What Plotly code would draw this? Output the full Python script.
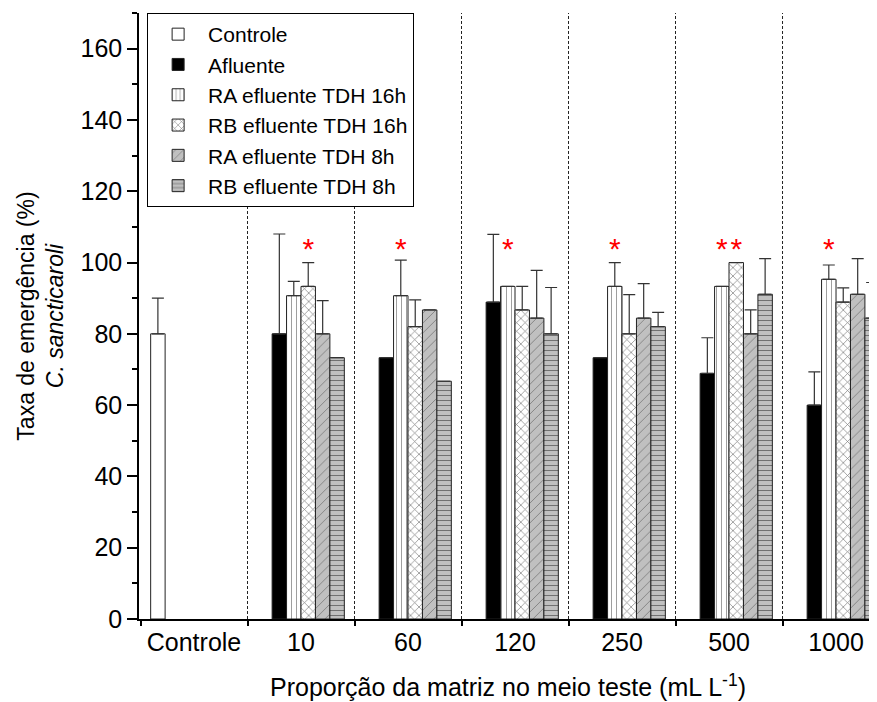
import plotly.graph_objects as go

categories = ["Controle", "10", "60", "120", "250", "500", "1000"]

series_names = ["Controle", "Afluente", "RA efluente TDH 16h", "RB efluente TDH 16h",
                "RA efluente TDH 8h", "RB efluente TDH 8h"]

controle = [80, None, None, None, None, None, None]
afluente = [None, 80, 73.3, 88.9, 73.3, 68.9, 60]
ra16 = [None, 90.7, 90.7, 93.3, 93.3, 93.3, 95.3]
rb16 = [None, 93.3, 82, 86.7, 80, 100, 88.9]
ra8 = [None, 80, 86.7, 84.4, 84.4, 80, 91.1]
rb8 = [None, 73.3, 66.7, 80, 82, 91.1, 84.4]

err_controle = [10, 0, 0, 0, 0, 0, 0]
err_afluente = [0, 28, 0, 19, 0, 10, 9.3]
err_ra16 = [0, 4, 10, 0, 6.7, 0, 4]
err_rb16 = [0, 6.7, 7.5, 6.6, 11, 0, 4]
err_ra8 = [0, 9.3, 0, 13.4, 9.7, 6.7, 10]
err_rb8 = [0, 0, 0, 13, 4, 10, 10]

# significance markers: (category index, series index)
star_cat = [1, 2, 3, 4, 5, 5, 6]
star_series = [3, 2, 2, 2, 2, 3, 2]
star_level = [103, 103, 103, 103, 103, 103, 103]

values = [controle, afluente, ra16, rb16, ra8, rb8]
errors = [err_controle, err_afluente, err_ra16, err_rb16, err_ra8, err_rb8]

styles = [
    dict(color="white", pattern=dict(shape="")),
    dict(color="black", pattern=dict(shape="")),
    dict(color="white", pattern=dict(shape="|", fgcolor="black", bgcolor="white", size=5, solidity=0.15)),
    dict(color="white", pattern=dict(shape="x", fgcolor="black", bgcolor="white", size=6, solidity=0.22)),
    dict(color="#c0c0c0", pattern=dict(shape="/", fgcolor="#333333", bgcolor="#c0c0c0", size=7, solidity=0.12)),
    dict(color="#c0c0c0", pattern=dict(shape="-", fgcolor="#222222", bgcolor="#c0c0c0", size=5, solidity=0.2)),
]

FONT = "Liberation Sans, Arial, sans-serif"
bargap = 0.19
xs = list(range(len(categories)))

fig = go.Figure()
for name, vals, errs, st in zip(series_names, values, errors, styles):
    fig.add_trace(go.Bar(
        x=xs, y=vals, name=name,
        marker=dict(color=st["color"], pattern=st["pattern"],
                    line=dict(color="#222222", width=1)),
        error_y=dict(type="data", symmetric=False, array=errs,
                     arrayminus=[0] * len(errs), color="#333333",
                     thickness=1.2, width=6),
    ))

slot_w = (1 - bargap) / len(series_names)
star_x = [c + (s - (len(series_names) - 1) / 2) * slot_w for c, s in zip(star_cat, star_series)]
fig.add_trace(go.Scatter(
    x=star_x, y=star_level, mode="text", text=["*"] * len(star_x),
    textfont=dict(color="red", size=30, family=FONT),
    showlegend=False, hoverinfo="skip",
))

for i in range(len(categories) - 1):
    fig.add_shape(type="line", xref="x", yref="y", x0=i + 0.5, x1=i + 0.5, y0=0, y1=170,
                  line=dict(color="#222222", width=1, dash="3px,2px"), layer="below")

fig.update_layout(
    width=869, height=694,
    margin=dict(l=131, r=0, t=5, b=83),
    paper_bgcolor="white", plot_bgcolor="white",
    barmode="group", bargap=bargap, bargroupgap=0,
    font=dict(family=FONT, size=25, color="black"),
    showlegend=True,
    legend=dict(x=0.011, y=1, xanchor="left", yanchor="top",
                bordercolor="black", borderwidth=1, bgcolor="white",
                font=dict(size=21, family=FONT), tracegroupgap=0,
                itemwidth=50),
)

fig.update_xaxes(
    range=[-0.514, 6.383], automargin=False,
    tickmode="array", tickvals=xs, ticktext=categories,
    ticks="", showline=True, linecolor="black", linewidth=1.5,
    minor=dict(tickmode="linear", tick0=0.5, dtick=1, ticks="outside", ticklen=5,
               tickcolor="black", tickwidth=1.5),
    showgrid=False, zeroline=False,
    tickfont=dict(size=25),
    title=dict(text="Proporção da matriz no meio teste (mL L<sup>-1</sup>)",
               font=dict(size=25), standoff=24),
)

fig.update_yaxes(
    range=[0, 170], automargin=False,
    tickmode="linear", tick0=0, dtick=20,
    ticks="outside", ticklen=10, tickwidth=1.5, tickcolor="black",
    minor=dict(tickmode="linear", tick0=10, dtick=20, ticks="outside", ticklen=5,
               tickcolor="black", tickwidth=1.5),
    showline=True, linecolor="black", linewidth=1.5,
    showgrid=False, zeroline=False,
    tickfont=dict(size=25),
    title=dict(text="Taxa de emergência (%)<br><i>C. sancticaroli</i>",
               font=dict(size=23), standoff=10),
)

fig.write_html("out.html")
